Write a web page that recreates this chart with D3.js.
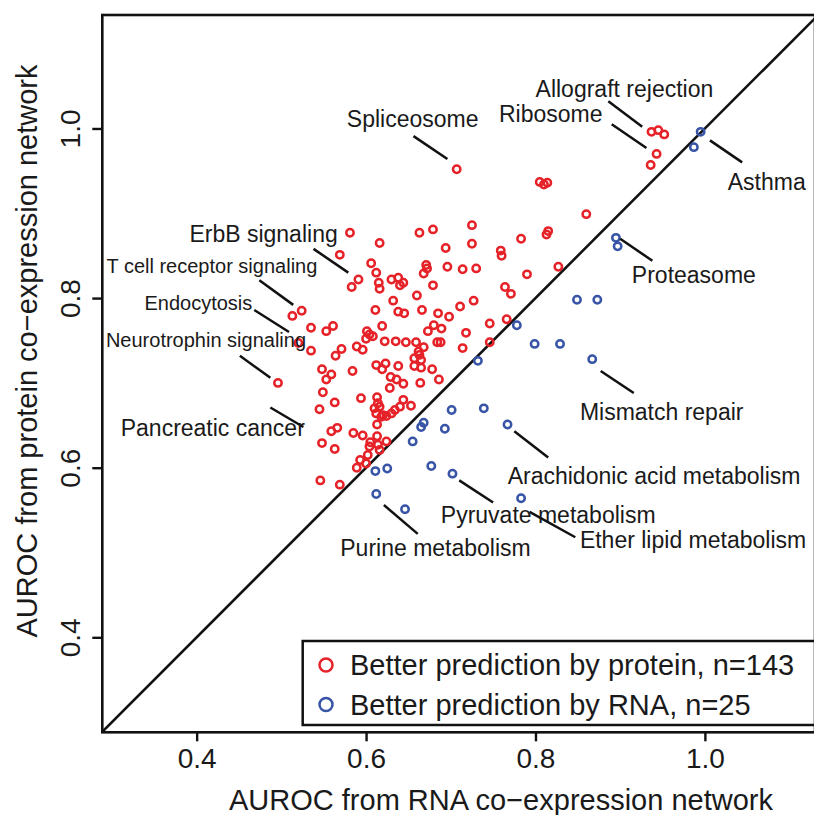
<!DOCTYPE html>
<html><head><meta charset="utf-8">
<script src="https://cdn.jsdelivr.net/npm/d3@7"></script>
<style>
html,body{margin:0;padding:0;background:#fff;}
text{font-family:"Liberation Sans",Arial,Helvetica,sans-serif;fill:#1a1a1a;}
</style></head>
<body>
<svg id="chart" width="814" height="815"></svg>
<script>
// ---------- data ----------
const proteinBetter = [
[0.707,0.952],[0.805,0.937],[0.810,0.934],[0.814,0.936],[0.581,0.877],[0.616,0.865],[0.663,0.877],[0.679,0.881],
[0.725,0.886],[0.725,0.864],[0.694,0.859],[0.759,0.856],[0.760,0.850],[0.783,0.870],[0.815,0.879],[0.813,0.875],
[0.569,0.851],[0.606,0.841],[0.612,0.830],[0.591,0.822],[0.583,0.813],[0.671,0.839],[0.672,0.835],[0.668,0.829],
[0.696,0.837],[0.714,0.834],[0.730,0.835],[0.790,0.828],[0.827,0.837],[0.615,0.818],[0.616,0.811],[0.630,0.822],
[0.638,0.824],[0.644,0.818],[0.679,0.815],[0.660,0.803],[0.632,0.797],[0.611,0.786],[0.638,0.784],[0.645,0.782],
[0.666,0.786],[0.685,0.782],[0.698,0.778],[0.711,0.790],[0.727,0.797],[0.764,0.813],[0.771,0.805],[0.766,0.775],
[0.746,0.770],[0.513,0.779],[0.524,0.785],[0.535,0.765],[0.553,0.761],[0.561,0.767],[0.535,0.738],[0.571,0.740],
[0.564,0.732],[0.589,0.743],[0.596,0.739],[0.601,0.761],[0.604,0.757],[0.608,0.755],[0.600,0.752],[0.619,0.767],
[0.622,0.749],[0.635,0.749],[0.647,0.748],[0.659,0.748],[0.673,0.761],[0.680,0.768],[0.689,0.764],[0.684,0.748],
[0.688,0.748],[0.718,0.759],[0.714,0.741],[0.746,0.748],[0.662,0.737],[0.657,0.729],[0.665,0.727],[0.657,0.720],
[0.665,0.718],[0.678,0.716],[0.686,0.704],[0.664,0.700],[0.612,0.721],[0.623,0.723],[0.619,0.716],[0.638,0.720],
[0.629,0.707],[0.636,0.704],[0.644,0.699],[0.628,0.694],[0.584,0.714],[0.548,0.716],[0.559,0.710],[0.553,0.704],
[0.549,0.689],[0.496,0.700],[0.545,0.669],[0.563,0.677],[0.594,0.682],[0.613,0.683],[0.614,0.676],[0.610,0.670],
[0.616,0.672],[0.612,0.664],[0.620,0.662],[0.624,0.661],[0.630,0.664],[0.634,0.668],[0.640,0.672],[0.644,0.680],
[0.653,0.673],[0.613,0.651],[0.559,0.643],[0.566,0.647],[0.548,0.629],[0.563,0.622],[0.585,0.641],[0.596,0.638],
[0.613,0.637],[0.624,0.631],[0.604,0.625],[0.614,0.627],[0.616,0.621],[0.593,0.609],[0.589,0.600],[0.602,0.615],
[0.546,0.585],[0.569,0.580],[0.937,0.996],[0.945,0.998],[0.952,0.993],[0.943,0.970],[0.936,0.957],[0.860,0.899],
[0.520,0.747],[0.663,0.733],[0.618,0.660],[0.605,0.630],[0.640,0.815],[0.600,0.605],[0.668,0.742]
];
const rnaBetter = [
[0.995,0.996],[0.987,0.978],[0.895,0.871],[0.897,0.861],[0.849,0.798],[0.873,0.798],[0.829,0.746],[0.799,0.746],
[0.778,0.768],[0.867,0.728],[0.732,0.726],[0.701,0.668],[0.739,0.670],[0.767,0.651],[0.668,0.653],[0.665,0.648],
[0.693,0.646],[0.655,0.631],[0.611,0.596],[0.625,0.599],[0.677,0.602],[0.702,0.593],[0.612,0.569],[0.646,0.551],
[0.783,0.564]
];
const xTicks = [0.4, 0.6, 0.8, 1.0];
const yTicks = [0.4, 0.6, 0.8, 1.0];
const tickLabels = ["0.4", "0.6", "0.8", "1.0"];
const xTitle = "AUROC from RNA co\u2212expression network";
const yTitle = "AUROC from protein co\u2212expression network";
const legendLabels = ["Better prediction by protein, n=143", "Better prediction by RNA, n=25"];

// annotation labels: text, text centre (data units), leader line (data units), font size
const annLabels = ["Allograft rejection","Ribosome","Spliceosome","Asthma","ErbB signaling","T cell receptor signaling",
  "Proteasome","Endocytosis","Neurotrophin signaling","Mismatch repair","Pancreatic cancer",
  "Arachidonic acid metabolism","Pyruvate metabolism","Ether lipid metabolism","Purine metabolism"];
const annPos = [[0.905,1.047],[0.818,1.017],[0.655,1.011],[1.073,0.937],[0.479,0.876],[0.418,0.838],
  [0.987,0.828],[0.402,0.795],[0.411,0.751],[0.949,0.666],[0.419,0.647],
  [0.940,0.591],[0.815,0.545],[0.986,0.515],[0.682,0.506]];
const annLines = [[0.886,1.032,0.926,1.002],[0.890,1.005,0.931,0.977],[0.656,0.991,0.696,0.964],[1.006,0.986,1.044,0.960],
  [0.538,0.858,0.579,0.830],[0.474,0.821,0.514,0.792],[0.900,0.870,0.938,0.844],[0.468,0.786,0.509,0.760],
  [0.451,0.732,0.487,0.706],[0.877,0.714,0.916,0.688],[0.487,0.671,0.526,0.648],[0.775,0.643,0.815,0.612],
  [0.710,0.585,0.750,0.559],[0.793,0.548,0.847,0.518],[0.621,0.556,0.661,0.522]];
const annSizes = [23,23,23,23,23,20,23,20,20,23,23,23,23,23,23];

// ---------- layout ----------
const RED = "#e62229", BLUE = "#3854a6";
const pL = 102.3, pR = 815, pT = 15, pB = 732.3;
const x = d3.scaleLinear().domain([0.2886, 1.1300]).range([pL, pR]);
const y = d3.scaleLinear().domain([0.2880, 1.1338]).range([pB, pT]);

const svg = d3.select("#chart");

svg.append("defs").append("clipPath").attr("id","clip")
  .append("rect").attr("x",pL).attr("y",pT).attr("width",pR-pL).attr("height",pB-pT);

// diagonal y = x
svg.append("line").attr("clip-path","url(#clip)")
  .attr("x1", x(0.25)).attr("y1", y(0.25)).attr("x2", x(1.2)).attr("y2", y(1.2))
  .attr("stroke","#111").attr("stroke-width",2.6);

// points
const g = svg.append("g").attr("clip-path","url(#clip)");
g.selectAll("circle.p").data(proteinBetter).join("circle").attr("class","p")
  .attr("cx",d=>x(d[0])).attr("cy",d=>y(d[1])).attr("r",3.7)
  .attr("fill","none").attr("stroke",RED).attr("stroke-width",2.5);
g.selectAll("circle.r").data(rnaBetter).join("circle").attr("class","r")
  .attr("cx",d=>x(d[0])).attr("cy",d=>y(d[1])).attr("r",3.7)
  .attr("fill","none").attr("stroke",BLUE).attr("stroke-width",2.5);

// annotations
svg.append("g").selectAll("line").data(annLines).join("line")
  .attr("x1",d=>x(d[0])).attr("y1",d=>y(d[1])).attr("x2",d=>x(d[2])).attr("y2",d=>y(d[3]))
  .attr("stroke","#111").attr("stroke-width",2.5);
svg.append("g").selectAll("text").data(annLabels).join("text")
  .attr("x",(d,i)=>x(annPos[i][0])).attr("y",(d,i)=>y(annPos[i][1]))
  .attr("dy","0.36em").attr("text-anchor","middle")
  .style("font-size",(d,i)=>annSizes[i]+"px").text(d=>d);

// legend
const lg = svg.append("g");
lg.append("rect").attr("x",302.7).attr("y",641).attr("width",pR-302.7+5).attr("height",84)
  .attr("fill","#fff").attr("stroke","#111").attr("stroke-width",2.5);
const legColors = [RED, BLUE];
legendLabels.forEach((t,i)=>{
  const cy = 665 + i*39.5;
  lg.append("circle").attr("cx",326).attr("cy",cy).attr("r",6.5)
    .attr("fill","none").attr("stroke",legColors[i]).attr("stroke-width",2.5);
  lg.append("text").attr("x",350).attr("y",cy+10.2).style("font-size","29px").text(t);
});

// box
svg.append("rect").attr("x",pL).attr("y",pT).attr("width",pR-pL).attr("height",pB-pT)
  .attr("fill","none").attr("stroke","#111").attr("stroke-width",2.6);

// x axis
const xa = svg.append("g").attr("transform",`translate(0,${pB})`)
  .call(d3.axisBottom(x).tickValues(xTicks).tickSize(9).tickFormat((d,i)=>tickLabels[i]));
xa.select(".domain").remove();
xa.selectAll("line").attr("stroke","#111").attr("stroke-width",2.4);
xa.selectAll("text").attr("y",36).attr("dy",0).attr("fill","#1a1a1a")
  .style("font-size","28px").style("font-family","'Liberation Sans',Arial,sans-serif");

// y axis
const ya = svg.append("g").attr("transform",`translate(${pL},0)`)
  .call(d3.axisLeft(y).tickValues(yTicks).tickSize(10).tickFormat((d,i)=>tickLabels[i]));
ya.select(".domain").remove();
ya.selectAll("line").attr("stroke","#111").attr("stroke-width",2.4);
ya.selectAll("text").attr("transform","rotate(-90)").attr("x",0).attr("y",-22).attr("dy",0)
  .attr("text-anchor","middle").attr("fill","#1a1a1a")
  .style("font-size","28px").style("font-family","'Liberation Sans',Arial,sans-serif");

// axis titles
svg.append("text").attr("x",501).attr("y",810).attr("text-anchor","middle")
  .style("font-size","29px").text(xTitle);
svg.append("text").attr("transform","translate(37,351) rotate(-90)").attr("text-anchor","middle")
  .style("font-size","29px").text(yTitle);
</script>
</body></html>
